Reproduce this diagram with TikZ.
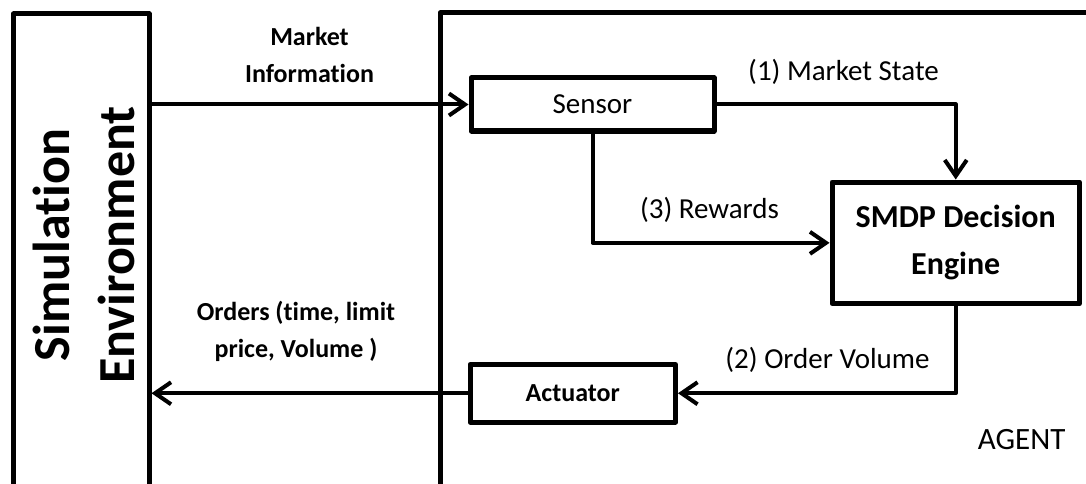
\documentclass[tikz,border=0pt]{standalone}
\usepackage{fontspec}
\setmainfont{Carlito}[Ligatures=NoCommon]
\usetikzlibrary{arrows.meta}
\begin{document}
\begin{tikzpicture}[x=1pt,y=-1pt,
  box/.style={draw, line width=5pt, line join=round, inner sep=0pt, align=center},
  link/.style={draw, line width=4pt, line join=round,
    -{Straight Barb[length=16pt,width=22pt]}},
  plain/.style={font=\fontsize{29}{35}\selectfont, inner sep=0pt},
  boldlabel/.style={font=\fontsize{26}{37}\selectfont\bfseries, inner sep=0pt, align=center}]
\useasboundingbox (0,0) rectangle (1086,484);
\clip (0,0) rectangle (1086,484);

% outer frames, running off the page at the bottom and right
\node[box, minimum width=135.5pt, minimum height=700pt] (sim) at (81.25,364) {};
\node[box, minimum width=900pt, minimum height=700pt] (agent) at (890,363) {};

% environment title, set sideways
\node[rotate=90, font=\fontsize{52}{60}\selectfont\bfseries, inner sep=0pt] (simname) at (51.5,245) {Simulation};
\node[rotate=90, font=\fontsize{52}{60}\selectfont\bfseries, inner sep=0pt] (envname) at (116,245) {Environment};

% agent components
\node[box, minimum width=243pt, minimum height=53pt, font=\fontsize{29}{35}\selectfont] (sensor) at (592.5,104.5) {Sensor};
\node[box, minimum width=247.5pt, minimum height=121.7pt, font=\fontsize{32}{47}\selectfont\bfseries] (smdp) at (955.75,242.85) {SMDP Decision\\Engine};
\node[box, minimum width=205.5pt, minimum height=57.5pt, font=\fontsize{26}{32}\selectfont\bfseries] (act) at (572.75,393.25) {Actuator};
\node[font=\fontsize{31}{37}\selectfont, inner sep=0pt] (agentname) at (1021.7,440) {AGENT};

% labels
\node[boldlabel] (mktinfo) at (309.5,55) {Market\\Information};
\node[boldlabel] (orders) at (296,331) {Orders (time, limit\\price, Volume )};
\node[plain] (lstate) at (843.5,72) {(1) Market State};
\node[plain] (lrew) at (709.5,210) {(3) Rewards};
\node[plain] (lvol) at (827.5,360) {(2) Order Volume};

% connectors
\draw[link] (sim.east |- sensor.west) -- (sensor.west);
\draw[link] (sensor.east) -| (smdp.north);
\draw[link] (sensor.south) |- (smdp.west);
\draw[link] (smdp.south) |- (act.east);
\draw[link] (act.west) -- (act.west -| sim.east);
\end{tikzpicture}
\end{document}
